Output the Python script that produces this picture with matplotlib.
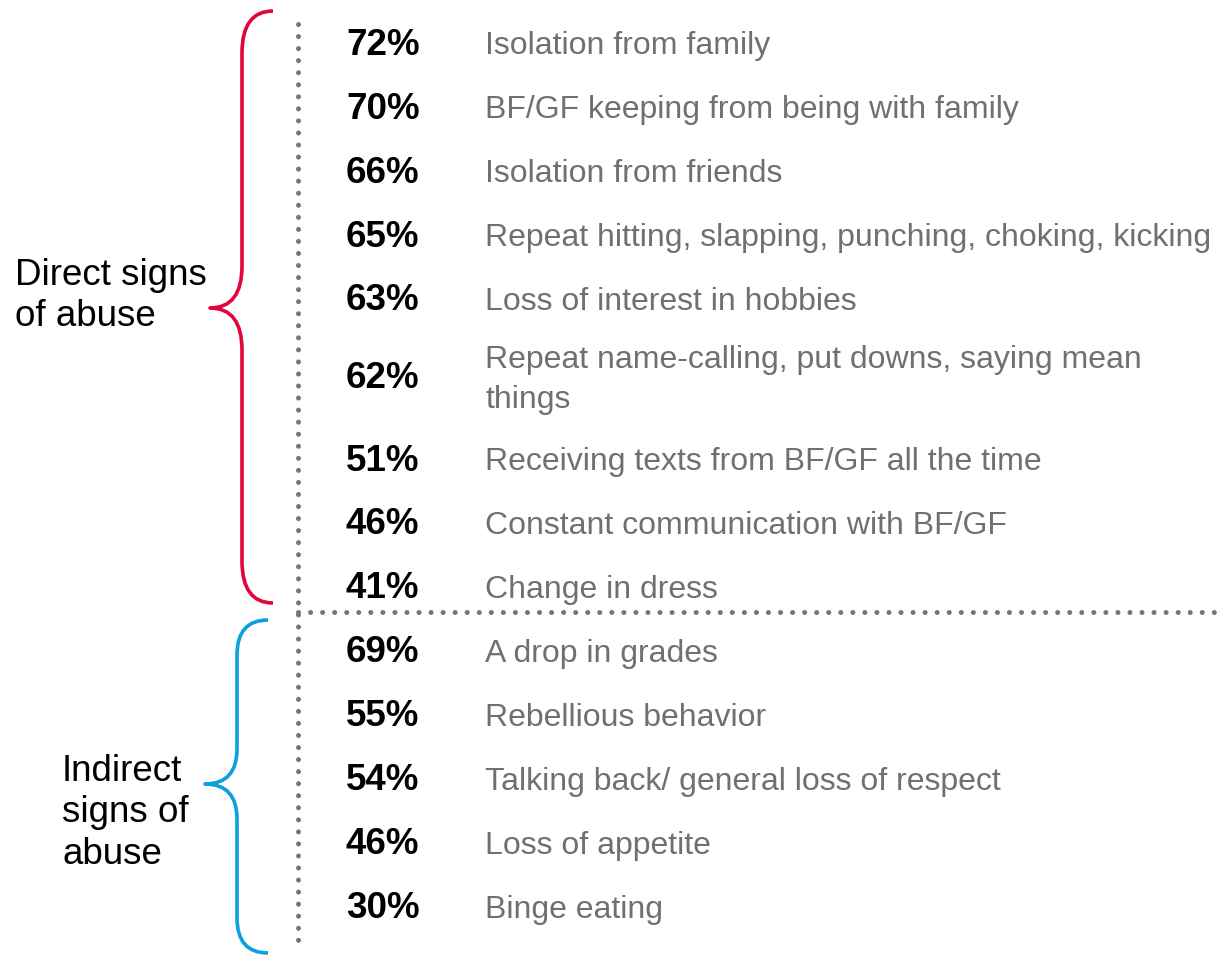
import matplotlib
matplotlib.use("Agg")
import matplotlib.pyplot as plt
from matplotlib.path import Path
from matplotlib.patches import PathPatch

plt.rcParams['font.family'] = ['Liberation Sans', 'DejaVu Sans']

# ---- data ----
direct_pcts = [72, 70, 66, 65, 63, 62, 51, 46, 41]
direct_labels = [
    "Isolation from family",
    "BF/GF keeping from being with family",
    "Isolation from friends",
    "Repeat hitting, slapping, punching, choking, kicking",
    "Loss of interest in hobbies",
    "Repeat name-calling, put downs, saying mean\nthings",
    "Receiving texts from BF/GF all the time",
    "Constant communication with BF/GF",
    "Change in dress",
]
indirect_pcts = [69, 55, 54, 46, 30]
indirect_labels = [
    "A drop in grades",
    "Rebellious behavior",
    "Talking back/ general loss of respect",
    "Loss of appetite",
    "Binge eating",
]
group_titles = ["Direct signs\nof abuse", "Indirect\nsigns of\nabuse"]

RED = "#E0063C"
BLUE = "#0AA0E2"
GRAY_TXT = "#707070"
DOT = "#75757C"

W, H = 1221, 956
fig = plt.figure(figsize=(W / 100, H / 100), dpi=100)
ax = fig.add_axes([0, 0, 1, 1])
ax.set_xlim(0, W)
ax.set_ylim(H, 0)
ax.axis("off")

# ---- rows ----
row_h1 = 64
row_h2 = 96
y = 12
centers = []
for lab in direct_labels + indirect_labels:
    h = row_h2 if "\n" in lab else row_h1
    centers.append(y + h / 2 - (2 if "\n" in lab else 0))
    y += h

pcts = direct_pcts + indirect_pcts
labels = direct_labels + indirect_labels
for yc, p, lab in zip(centers, pcts, labels):
    ax.text(346, yc + 1, f"{p}%", fontsize=26.5, fontweight="bold", color="black",
            ha="left", va="center")
    ax.text(485, yc + 2, lab, fontsize=23, color=GRAY_TXT, ha="left", va="center",
            linespacing=1.45)

# ---- dotted lines ----
dot_style = dict(color=DOT, lw=3.6, linestyle=(0, (0.01, 2.4)), dash_capstyle="round")
ax.plot([298, 298], [24, 950], **dot_style)
ax.plot([298, 1214], [612, 612], **dot_style)

# ---- braces ----
def brace(x_end, x_mid, x_tip, y_top, y_bot, y_tip, r_y, color):
    verts = [
        (x_end, y_top),
        (x_mid, y_top), (x_mid, y_top + r_y),
        (x_mid, y_tip - r_y),
        (x_mid, y_tip), (x_tip, y_tip),
        (x_mid, y_tip), (x_mid, y_tip + r_y),
        (x_mid, y_bot - r_y),
        (x_mid, y_bot), (x_end, y_bot),
    ]
    codes = [Path.MOVETO,
             Path.CURVE3, Path.CURVE3,
             Path.LINETO,
             Path.CURVE3, Path.CURVE3,
             Path.CURVE3, Path.CURVE3,
             Path.LINETO,
             Path.CURVE3, Path.CURVE3]
    ax.add_patch(PathPatch(Path(verts, codes), fill=False, edgecolor=color,
                           lw=2.6, capstyle="butt", joinstyle="round"))

brace(273, 242, 210, 11, 603, 308, 42, RED)
brace(268, 237, 205, 620, 953, 784, 35, BLUE)

# ---- group titles ----
ax.text(15, 296, group_titles[0], fontsize=26.5, color="black", ha="left",
        va="center", linespacing=1.24)
ax.text(62, 813, group_titles[1], fontsize=26.5, color="black", ha="left",
        va="center", linespacing=1.24)

fig.savefig("out.png", dpi=100)
